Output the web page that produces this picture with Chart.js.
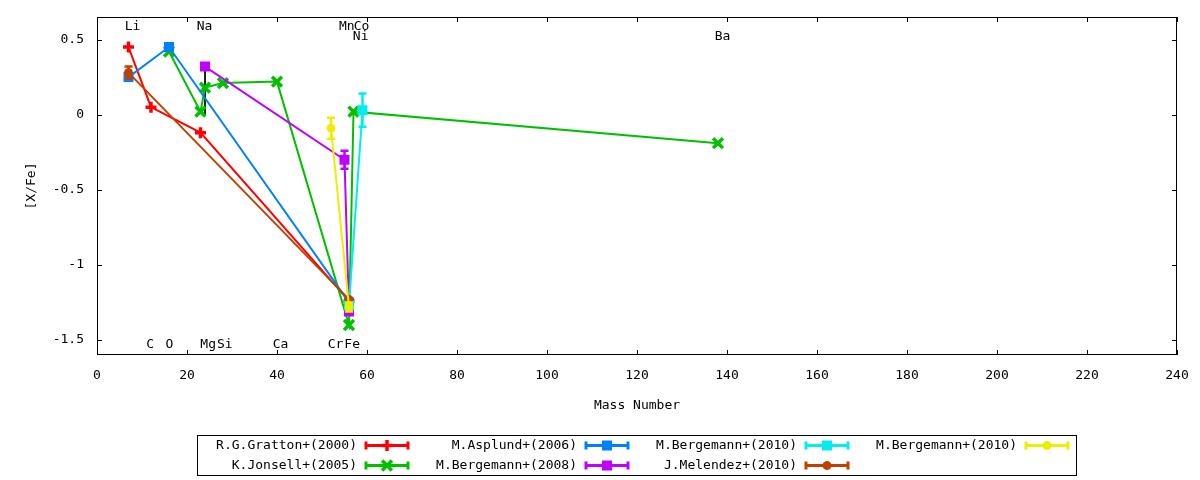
<!DOCTYPE html>
<html>
<head>
<meta charset="utf-8">
<script src="https://cdn.jsdelivr.net/npm/chart.js@4.4.1/dist/chart.umd.min.js"></script>
<style>
  html, body { margin: 0; padding: 0; background: #fff; }
  #wrap { width: 1200px; height: 480px; }
</style>
</head>
<body>
<div id="wrap"><canvas id="abund" width="1200" height="480"></canvas></div>
<script>
// [X/Fe] against mass number, one pair of arrays per paper
const grattonMass = [7, 12, 23, 56];
const grattonXFe = [0.45, 0.05, -0.12, -1.24];

const jonsellMass = [16, 23, 24, 28, 40, 56, 57, 138];
const jonsellXFe = [0.42, 0.02, 0.18, 0.21, 0.22, -1.40, 0.02, -0.19];

const asplundMass = [7, 16, 56];
const asplundXFe = [0.25, 0.45, -1.25];

const berg08Mass = [24, 55, 56];
const berg08XFe = [0.32, -0.30, -1.31];
const berg08Err = [0, 0.06, 0];

const berg10aMass = [59, 56];
const berg10aXFe = [0.03, -1.27];
const berg10aErr = [0.11, 0];

const melendezMass = [7, 56];
const melendezXFe = [0.28, -1.23];
const melendezErr = [0.04, 0];

const berg10bMass = [52, 56];
const berg10bXFe = [-0.09, -1.28];
const berg10bErr = [0.07, 0.03];

// lone black bar under the Mg point
const blackMass = [24, 24];
const blackXFe = [0.30, 0.0];

const xTicks = [0, 20, 40, 60, 80, 100, 120, 140, 160, 180, 200, 220, 240];
const yTicks = [-1.5, -1, -0.5, 0, 0.5];

// element names written along the frame
const topNames = ['Li', 'Na', 'Mn', 'Co'];
const topNameMass = [7.9, 23.9, 55.5, 58.8];
const top2Names = ['Ni', 'Ba'];
const top2NameMass = [58.6, 139];
const bottomNames = ['C', 'O', 'Mg', 'Si', 'Ca', 'Cr', 'Fe'];
const bottomNameMass = [11.8, 16.1, 24.7, 28.4, 40.8, 53, 56.7];

Chart.defaults.font.family = "'DejaVu Sans Mono', monospace";
Chart.defaults.font.size = 13;
Chart.defaults.color = '#000';

function pts(xs, ys) {
  return xs.map(function (x, i) { return { x: x, y: ys[i] }; });
}

function series(label, color, style, radius, bw, xs, ys, errs, order) {
  return {
    label: label,
    data: pts(xs, ys),
    err: errs || null,
    showLine: true,
    borderColor: color,
    backgroundColor: color,
    borderWidth: 2,
    pointStyle: style,
    pointRadius: radius,
    pointBorderWidth: bw,
    pointBackgroundColor: color,
    pointBorderColor: color,
    tension: 0,
    order: order,
  };
}

const datasets = [
  series('R.G.Gratton+(2000)', '#ff0000', 'cross', 5.5, 3.5, grattonMass, grattonXFe, null, 7),
  series('K.Jonsell+(2005)', '#00c000', 'crossRot', 7, 3.5, jonsellMass, jonsellXFe, null, 6),
  series('M.Asplund+(2006)', '#0080ff', 'rect', 6, 1.5, asplundMass, asplundXFe, null, 5),
  series('M.Bergemann+(2008)', '#c000ff', 'rect', 6, 1.5, berg08Mass, berg08XFe, berg08Err, 4),
  series('M.Bergemann+(2010)', '#00eeee', 'rect', 6, 1.5, berg10aMass, berg10aXFe, berg10aErr, 3),
  series('J.Melendez+(2010)', '#c04000', 'circle', 4, 1, melendezMass, melendezXFe, melendezErr, 2),
  series('M.Bergemann+(2010)', '#eeee00', 'circle', 4, 1, berg10bMass, berg10bXFe, berg10bErr, 1),
];
const blackBar = series('', '#000000', 'circle', 0, 0, blackMass, blackXFe, null, 8);
blackBar.borderWidth = 1;
blackBar.noLegend = true;
datasets.push(blackBar);

// gnuplot style frame with inward tics on all four sides, plus element names
const framePlugin = {
  id: 'frame',
  beforeDatasetsDraw(chart) {
    const ctx = chart.ctx;
    const a = chart.chartArea;
    const xs = chart.scales.x;
    const ys = chart.scales.y;
    ctx.save();
    ctx.strokeStyle = '#000';
    ctx.lineWidth = 1;
    ctx.strokeRect(a.left + 0.5, a.top + 0.5, a.right - a.left - 1, a.bottom - a.top - 1);
    ctx.beginPath();
    xTicks.forEach(function (v) {
      const px = Math.round(xs.getPixelForValue(v)) + 0.5;
      ctx.moveTo(px, a.bottom);
      ctx.lineTo(px, a.bottom - 5);
      ctx.moveTo(px, a.top);
      ctx.lineTo(px, a.top + 5);
    });
    yTicks.forEach(function (v) {
      const py = Math.round(ys.getPixelForValue(v)) + 0.5;
      ctx.moveTo(a.left, py);
      ctx.lineTo(a.left + 5, py);
      ctx.moveTo(a.right, py);
      ctx.lineTo(a.right - 5, py);
    });
    ctx.stroke();

    ctx.fillStyle = '#000';
    ctx.font = "13px 'DejaVu Sans Mono'";
    ctx.textAlign = 'center';
    ctx.textBaseline = 'middle';
    topNames.forEach(function (n, i) {
      ctx.fillText(n, xs.getPixelForValue(topNameMass[i]), a.top + 10);
    });
    top2Names.forEach(function (n, i) {
      ctx.fillText(n, xs.getPixelForValue(top2NameMass[i]), a.top + 20);
    });
    bottomNames.forEach(function (n, i) {
      ctx.fillText(n, xs.getPixelForValue(bottomNameMass[i]), a.bottom - 10);
    });
    ctx.restore();
  },
};

// vertical error bars, drawn straight after their own dataset
const errorBars = {
  id: 'errorBars',
  afterDatasetDraw(chart, args) {
    const ds = chart.data.datasets[args.index];
    if (!ds.err) return;
    const ctx = chart.ctx;
    const xs = chart.scales.x;
    const ys = chart.scales.y;
    ctx.save();
    ctx.strokeStyle = ds.borderColor;
    ctx.lineWidth = 2.5;
    ds.data.forEach(function (p, i) {
      const e = ds.err[i];
      if (!e) return;
      const px = xs.getPixelForValue(p.x);
      const y1 = ys.getPixelForValue(p.y + e);
      const y2 = ys.getPixelForValue(p.y - e);
      ctx.beginPath();
      ctx.moveTo(px, y1);
      ctx.lineTo(px, y2);
      ctx.moveTo(px - 4, y1);
      ctx.lineTo(px + 4, y1);
      ctx.moveTo(px - 4, y2);
      ctx.lineTo(px + 4, y2);
      ctx.stroke();
    });
    ctx.restore();
  },
};

// boxed key, two rows, filled column by column like gnuplot does
const keyPlugin = {
  id: 'keyBox',
  afterDraw(chart) {
    const ctx = chart.ctx;
    ctx.save();
    ctx.strokeStyle = '#000';
    ctx.lineWidth = 1;
    ctx.strokeRect(197.5, 435.5, 879, 40);
    ctx.font = "13px 'DejaVu Sans Mono'";
    ctx.textAlign = 'right';
    ctx.textBaseline = 'middle';
    let k = 0;
    chart.data.datasets.forEach(function (ds) {
      if (ds.noLegend) return;
      const col = Math.floor(k / 2);
      const row = k % 2;
      k++;
      const tx = 357 + col * 220;
      const ty = 445.5 + row * 20;
      ctx.fillStyle = '#000';
      ctx.fillText(ds.label, tx, ty);
      const s0 = tx + 9;
      const s1 = tx + 51;
      ctx.strokeStyle = ds.borderColor;
      ctx.fillStyle = ds.borderColor;
      ctx.lineWidth = 3;
      ctx.beginPath();
      ctx.moveTo(s0, ty);
      ctx.lineTo(s1, ty);
      ctx.moveTo(s0, ty - 4);
      ctx.lineTo(s0, ty + 4);
      ctx.moveTo(s1, ty - 4);
      ctx.lineTo(s1, ty + 4);
      ctx.stroke();
      ctx.lineWidth = ds.pointBorderWidth;
      Chart.helpers.drawPoint(ctx, {
        pointStyle: ds.pointStyle,
        radius: ds.pointRadius,
        borderWidth: ds.pointBorderWidth,
        rotation: 0,
      }, (s0 + s1) / 2, ty);
    });
    ctx.restore();
  },
};

new Chart(document.getElementById('abund'), {
  type: 'scatter',
  data: { datasets: datasets },
  options: {
    responsive: false,
    animation: false,
    events: [],
    layout: { padding: { top: 17, right: 23, left: 0, bottom: 0 } },
    plugins: { legend: { display: false }, tooltip: { enabled: false } },
    scales: {
      x: {
        type: 'linear',
        min: 0,
        max: 240,
        afterBuildTicks: function (s) { s.ticks = xTicks.map(function (v) { return { value: v }; }); },
        afterFit: function (s) {
          s.height = 125;
          s.paddingLeft = 0;
          s.paddingRight = 0;
        },
        ticks: { padding: 13, maxRotation: 0, autoSkip: false, callback: function (v) { return String(v); } },
        grid: { display: false, drawTicks: false },
        border: { display: false },
        title: { display: true, text: 'Mass Number', padding: { top: 0, bottom: 67 } },
      },
      y: {
        type: 'linear',
        min: -1.6,
        max: 0.65,
        afterBuildTicks: function (s) { s.ticks = yTicks.map(function (v) { return { value: v }; }); },
        afterFit: function (s) {
          s.width = 97;
          s.paddingTop = 0;
          s.paddingBottom = 0;
        },
        ticks: { padding: 13, autoSkip: false, callback: function (v) { return String(v); } },
        grid: { display: false, drawTicks: false },
        border: { display: false },
        title: { display: true, text: '[X/Fe]', padding: { top: 24, bottom: 0 } },
      },
    },
  },
  plugins: [framePlugin, errorBars, keyPlugin],
});
</script>
</body>
</html>
